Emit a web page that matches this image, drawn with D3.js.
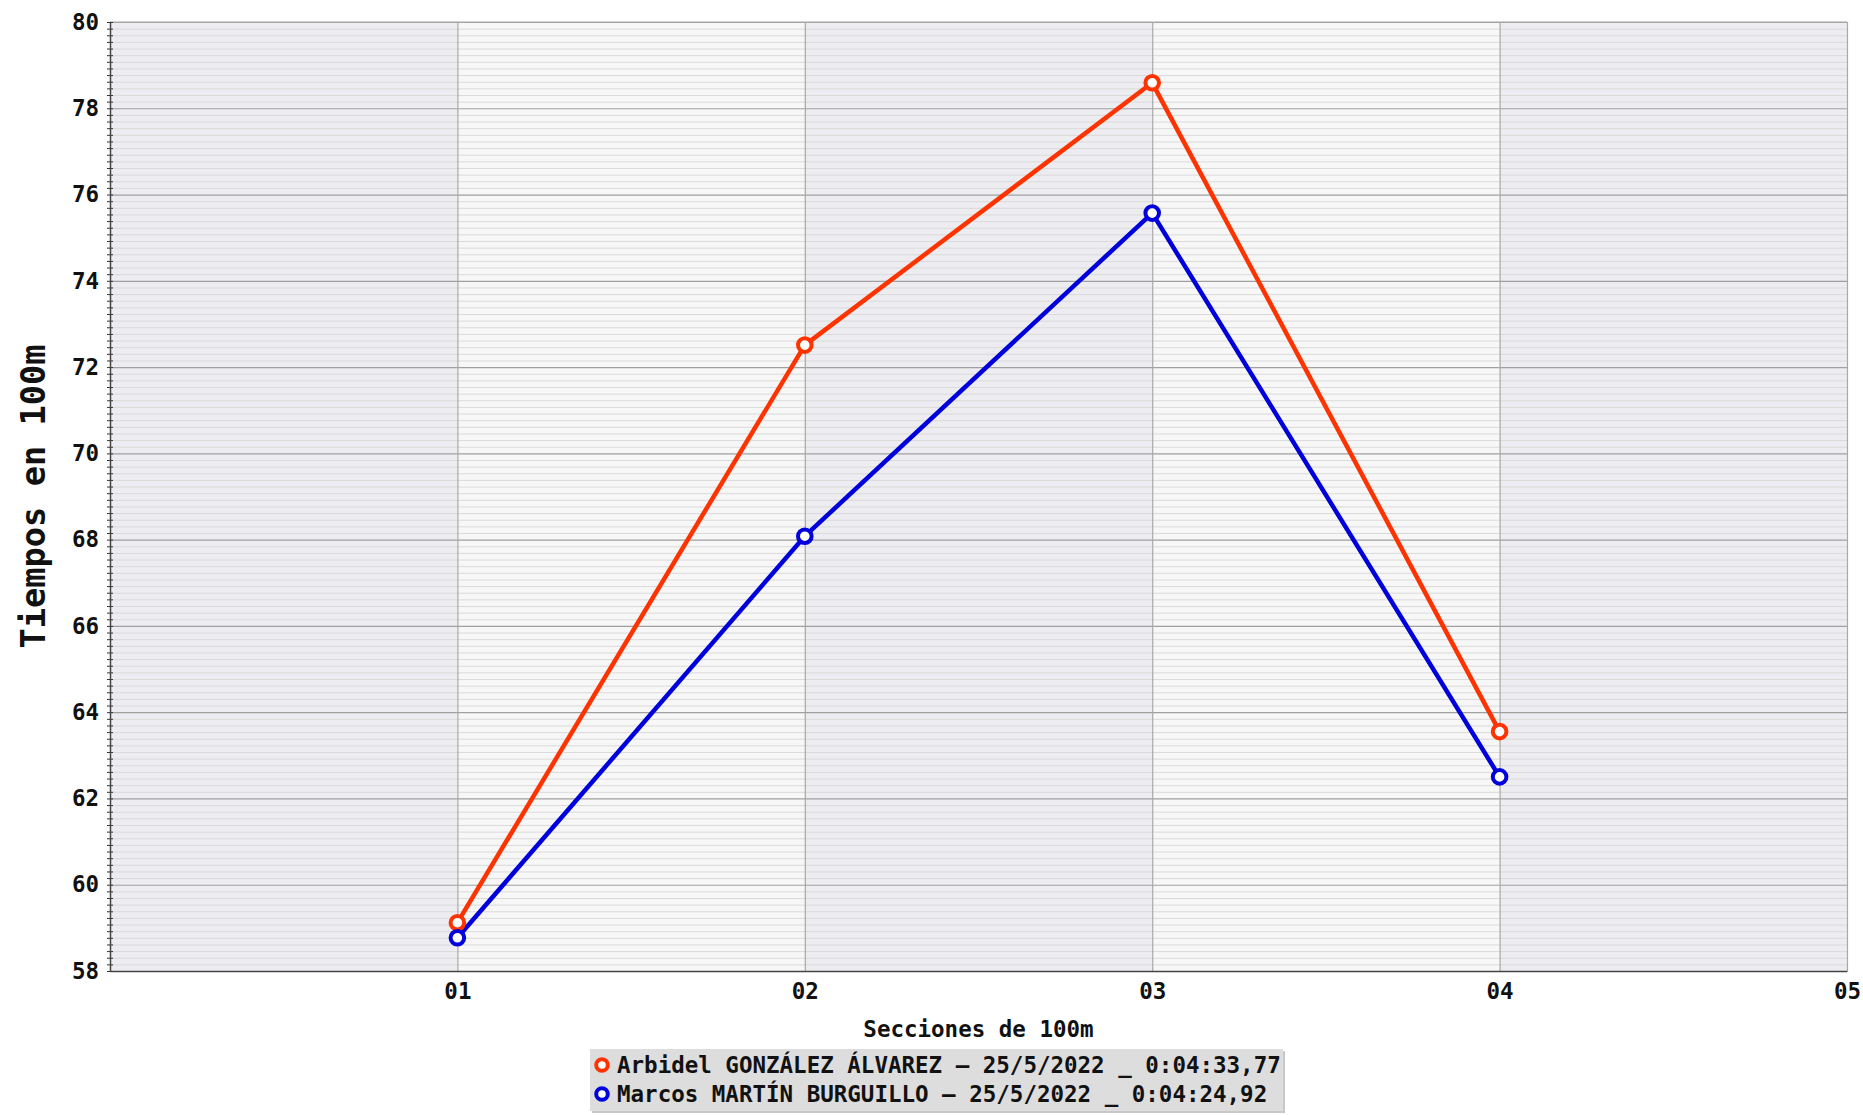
<!DOCTYPE html>
<html>
<head>
<meta charset="utf-8">
<script src="https://cdn.jsdelivr.net/npm/d3@7"></script>
<style>
  html, body { margin: 0; padding: 0; background: #ffffff; }
  svg { display: block; }
  text { font-family: "DejaVu Sans Mono", monospace; font-weight: bold; fill: #111; }
</style>
</head>
<body>
<svg id="chart" width="1863" height="1115"></svg>
<script>
// ---- data ----
const sectionLabels = ["01", "02", "03", "04", "05"];
const sectionPositions = [1, 2, 3, 4, 5];
const seriesNames = [
  "Arbidel GONZÁLEZ ÁLVAREZ – 25/5/2022 _ 0:04:33,77",
  "Marcos MARTÍN BURGUILLO – 25/5/2022 _ 0:04:24,92"
];
const seriesColors = ["#ff3300", "#0000dd"];
const arbidelTimes = [59.12, 72.51, 78.59, 63.55];
const marcosTimes = [58.77, 68.08, 75.57, 62.50];
const yTickValues = [58, 60, 62, 64, 66, 68, 70, 72, 74, 76, 78, 80];
const xTitle = "Secciones de 100m";
const yTitle = "Tiempos en 100m";

// ---- layout ----
const W = 1863, H = 1115;
const plot = { left: 110, right: 1847, top: 22, bottom: 971 };
const svg = d3.select("#chart");

const x = d3.scaleLinear().domain([0, 5]).range([plot.left, plot.right]);
const y = d3.scaleLinear().domain([58, 80]).range([plot.bottom, plot.top]);

// alternating column bands
const bands = d3.range(0, 5);
svg.append("g").selectAll("rect").data(bands).join("rect")
  .attr("x", d => x(d))
  .attr("y", plot.top)
  .attr("width", d => x(d + 1) - x(d))
  .attr("height", plot.bottom - plot.top)
  .attr("fill", d => d % 2 === 0 ? "#ededf1" : "#f7f7f7");

// minor values: 12 minor subdivisions between majors (13 intervals)
const minorValues = [];
for (let i = 0; i < yTickValues.length - 1; i++) {
  const a = yTickValues[i], b = yTickValues[i + 1];
  for (let k = 1; k < 13; k++) minorValues.push(a + (b - a) * k / 13);
}

// minor grid
svg.append("g")
  .attr("transform", `translate(${plot.left},0)`)
  .call(d3.axisLeft(y).tickValues(minorValues).tickSize(-(plot.right - plot.left)).tickFormat(""))
  .call(g => g.select(".domain").remove())
  .call(g => g.selectAll(".tick line").attr("stroke", "#dadada").attr("stroke-width", 1));

// major horizontal grid
svg.append("g")
  .attr("transform", `translate(${plot.left},0)`)
  .call(d3.axisLeft(y).tickValues(yTickValues).tickSize(-(plot.right - plot.left)).tickFormat(""))
  .call(g => g.select(".domain").remove())
  .call(g => g.selectAll(".tick line").attr("stroke", "#a0a0a0").attr("stroke-width", 1.2));

// vertical grid
svg.append("g")
  .attr("transform", `translate(0,${plot.bottom})`)
  .call(d3.axisBottom(x).tickValues(sectionPositions).tickSize(-(plot.bottom - plot.top)).tickFormat(""))
  .call(g => g.select(".domain").remove())
  .call(g => g.selectAll(".tick line").attr("stroke", "#a8a8a8").attr("stroke-width", 1.2));

// top border
svg.append("line")
  .attr("x1", plot.left).attr("x2", plot.right)
  .attr("y1", plot.top).attr("y2", plot.top)
  .attr("stroke", "#a8a8a8").attr("stroke-width", 1.2);

// y minor tick marks crossing the axis
svg.append("g")
  .attr("transform", `translate(${plot.left + 3},0)`)
  .call(d3.axisLeft(y).tickValues(minorValues.concat(yTickValues)).tickSize(6).tickFormat(""))
  .call(g => g.select(".domain").remove())
  .call(g => g.selectAll(".tick line").attr("stroke", "#333").attr("stroke-width", 1));

// y axis with labels
svg.append("g")
  .attr("transform", `translate(${plot.left},0)`)
  .call(d3.axisLeft(y).tickValues(yTickValues).tickSize(0).tickPadding(11).tickFormat(d3.format("d")))
  .call(g => g.select(".domain").attr("stroke", "#444").attr("stroke-width", 1.5))
  .call(g => g.selectAll(".tick text")
    .style("font-family", "'DejaVu Sans Mono', monospace")
    .style("font-weight", "bold")
    .style("font-size", "22.5px")
    .attr("fill", "#111"));

// x axis with labels
svg.append("g")
  .attr("transform", `translate(0,${plot.bottom})`)
  .call(d3.axisBottom(x).tickValues(sectionPositions).tickSize(0).tickPadding(12)
    .tickFormat((d, i) => sectionLabels[i]))
  .call(g => g.select(".domain").attr("stroke", "#444").attr("stroke-width", 1.5))
  .call(g => g.selectAll(".tick text")
    .style("font-family", "'DejaVu Sans Mono', monospace")
    .style("font-weight", "bold")
    .style("font-size", "22.5px")
    .attr("fill", "#111"));

// axis titles
svg.append("text")
  .attr("x", (plot.left + plot.right) / 2)
  .attr("y", 1029)
  .attr("text-anchor", "middle")
  .attr("dominant-baseline", "central")
  .style("font-size", "22.5px")
  .text(xTitle);

svg.append("text")
  .attr("transform", `translate(33,${(plot.top + plot.bottom) / 2}) rotate(-90)`)
  .attr("text-anchor", "middle")
  .attr("dominant-baseline", "central")
  .style("font-size", "33.7px")
  .text(yTitle);

// series
const seriesData = [arbidelTimes, marcosTimes];
const line = d3.line().x((d, i) => x(sectionPositions[i])).y(d => y(d));
const sg = svg.append("g");
seriesData.forEach((vals, si) => {
  sg.append("path")
    .datum(vals)
    .attr("d", line)
    .attr("fill", "none")
    .attr("stroke", seriesColors[si])
    .attr("stroke-width", 4.5)
    .attr("stroke-linejoin", "round");
});
seriesData.forEach((vals, si) => {
  sg.append("g").selectAll("circle").data(vals).join("circle")
    .attr("cx", (d, i) => x(sectionPositions[i]))
    .attr("cy", d => y(d))
    .attr("r", 6.8)
    .attr("fill", "#ffffff")
    .attr("stroke", seriesColors[si])
    .attr("stroke-width", 4);
});

// legend
const legend = { x: 590, y: 1049, w: 693, h: 62 };
svg.append("rect")
  .attr("x", legend.x + 2).attr("y", legend.y + 2)
  .attr("width", legend.w).attr("height", legend.h)
  .attr("fill", "#c8c8c8");
svg.append("rect")
  .attr("x", legend.x).attr("y", legend.y)
  .attr("width", legend.w).attr("height", legend.h)
  .attr("fill", "#dddddd");
const rowY = [1065, 1094];
seriesNames.forEach((name, i) => {
  svg.append("circle")
    .attr("cx", legend.x + 12).attr("cy", rowY[i])
    .attr("r", 5.8)
    .attr("fill", "#ffffff")
    .attr("stroke", seriesColors[i])
    .attr("stroke-width", 4);
  svg.append("text")
    .attr("x", legend.x + 27)
    .attr("y", rowY[i])
    .attr("dominant-baseline", "central")
    .style("font-size", "22.5px")
    .text(name);
});
</script>
</body>
</html>
